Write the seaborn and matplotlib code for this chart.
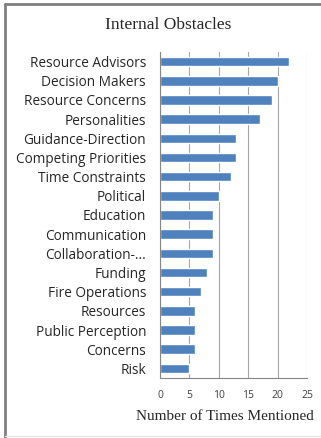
import matplotlib
matplotlib.use("Agg")
import matplotlib.pyplot as plt
import seaborn as sns
import pandas as pd
from matplotlib.lines import Line2D

categories = ["Resource Advisors", "Decision Makers", "Resource Concerns", "Personalities",
              "Guidance-Direction", "Competing Priorities", "Time Constraints", "Political",
              "Education", "Communication", "Collaboration-...", "Funding", "Fire Operations",
              "Resources", "Public Perception", "Concerns", "Risk"]
counts = [22, 20, 19, 17, 13, 13, 12, 10, 9, 9, 9, 8, 7, 6, 6, 6, 5]
x_ticks = [0, 5, 10, 15, 20, 25]

df = pd.DataFrame({"category": categories, "count": counts})

sns.set_style("white")
plt.rcParams["font.family"] = ["Open Sans", "DejaVu Sans"]

fig = plt.figure(figsize=(3.21, 4.38), dpi=100)
ax = fig.add_axes([160/321, 1-378/438, 147/321, 326/438])

sns.barplot(data=df, x="count", y="category", orient="h", color="#4F81BD",
            width=0.5, ax=ax, saturation=1)

ax.set_xlim(0, 25)
ax.set_ylim(len(categories)-0.5, -0.5)
ax.set_xticks(x_ticks)
ax.set_xticklabels([str(t) for t in x_ticks], fontsize=7.5, color="#404040")
ax.tick_params(axis="x", length=0, pad=9)
ax.tick_params(axis="y", length=0, pad=10, labelsize=9.8, labelcolor="#262626")
ax.set_yticks([i - 0.5 for i in range(len(categories)+1)], minor=True)
ax.tick_params(axis="y", which="minor", length=3, color="#868686", width=0.8)
ax.set_xlabel("")
ax.set_ylabel("")
ax.xaxis.grid(True, color="#A6A6A6", linewidth=0.8)
ax.set_axisbelow(True)
for s in ["top", "right"]:
    ax.spines[s].set_visible(False)
for s in ["left", "bottom"]:
    ax.spines[s].set_color("#868686")
    ax.spines[s].set_linewidth(0.8)

fig.text(168/321, 1-25/438, "Internal Obstacles", ha="center", va="center",
         family="Liberation Serif", fontsize=12.5, color="#262626")
fig.text(225/321, 1-416/438, "Number of Times Mentioned", ha="center", va="center",
         family="Liberation Serif", fontsize=11, color="#262626")

# outer frame
fig.add_artist(Line2D([5/321, 5/321], [0, 1-4/438], transform=fig.transFigure,
                      color="#808080", linewidth=2))
fig.add_artist(Line2D([5/321, 1], [1-4/438, 1-4/438], transform=fig.transFigure,
                      color="#808080", linewidth=2))
fig.add_artist(Line2D([5/321, 1], [1-436/438, 1-436/438], transform=fig.transFigure,
                      color="#E6E6E6", linewidth=1))

fig.savefig("out.png", dpi=100)
